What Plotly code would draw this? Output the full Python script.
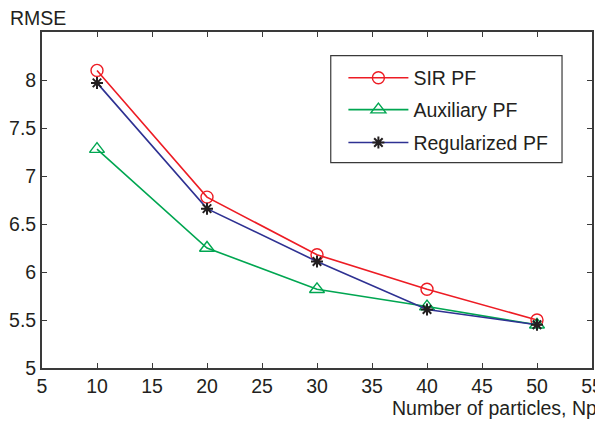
import plotly.graph_objects as go

np_particles = [10, 20, 30, 40, 50]
sir_pf = [8.10, 6.78, 6.18, 5.82, 5.50]
aux_pf = [7.28, 6.25, 5.82, 5.64, 5.45]
reg_pf = [7.97, 6.66, 6.11, 5.61, 5.45]
x_ticks = [5, 10, 15, 20, 25, 30, 35, 40, 45, 50, 55]
y_ticks = [5, 5.5, 6, 6.5, 7, 7.5, 8]

FONT = "Liberation Sans, Arial, sans-serif"
INK = "#231f20"
AX = "#3a3a3a"
FS = 19.5

fig = go.Figure()
fig.add_trace(go.Scatter(x=np_particles, y=sir_pf, name="SIR PF", mode="lines+markers", legend="legend",
                         line=dict(color="#ed1c24", width=1.6),
                         marker=dict(symbol="circle-open", size=12, color="#ed1c24", line=dict(width=1.4))))
fig.add_trace(go.Scatter(x=np_particles, y=aux_pf, name="Auxiliary PF", mode="lines+markers", legend="legend2",
                         line=dict(color="#00a651", width=1.6),
                         marker=dict(symbol="triangle-up-open", size=13, color="#00a651", line=dict(width=1.4))))
fig.add_trace(go.Scatter(x=np_particles, y=reg_pf, name="Regularized PF", mode="lines+markers", legend="legend3",
                         line=dict(color="#2e3192", width=1.6),
                         marker=dict(symbol="asterisk-open", size=10, color=INK, line=dict(width=2, color=INK))))

axis_common = dict(showgrid=False, zeroline=False, showline=True, linecolor=AX, linewidth=1.8,
                   mirror="ticks", ticks="inside", ticklen=5, tickcolor=AX, tickwidth=1, automargin=False,
                   tickfont=dict(family=FONT, size=FS, color=INK))
fig.update_xaxes(range=[5, 55], tickvals=x_ticks, ticktext=[str(v) for v in x_ticks], **axis_common)
fig.update_yaxes(range=[5, 8.5], tickvals=y_ticks, ticktext=[f"{v:g}" for v in y_ticks], **axis_common)

leg_common = dict(xanchor="left", yanchor="middle", bgcolor="rgba(0,0,0,0)", borderwidth=0,
                  font=dict(family=FONT, size=FS, color=INK), itemwidth=60)

fig.update_layout(
    width=595, height=418,
    margin=dict(l=33.5, r=11, t=24, b=58),
    plot_bgcolor="white", paper_bgcolor="white",
    font=dict(family=FONT, color=INK),
    showlegend=True,
    legend=dict(x=0.548, y=0.863, **leg_common),
    legend2=dict(x=0.548, y=0.768, **leg_common),
    legend3=dict(x=0.548, y=0.670, **leg_common),
    shapes=[dict(type="rect", xref="paper", yref="paper", x0=0.525, x1=0.9455, y0=0.611, y1=0.9295,
                 line=dict(color=AX, width=1.2), fillcolor="white", layer="below")],
    annotations=[
        dict(text="RMSE", xref="paper", yref="paper", x=-0.062, y=1.0, xanchor="left", yanchor="middle",
             yshift=14, showarrow=False, font=dict(family=FONT, size=FS, color=INK)),
        dict(text="Number of particles, Np", xref="paper", yref="paper", x=1.0127, y=0, xanchor="right",
             yanchor="middle", yshift=-40, showarrow=False, font=dict(family=FONT, size=FS, color=INK)),
    ],
)

fig.write_html("out.html")
